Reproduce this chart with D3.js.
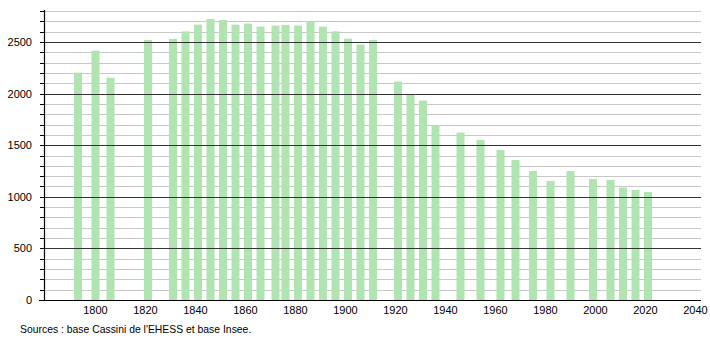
<!DOCTYPE html>
<html><head><meta charset="utf-8">
<script src="https://cdn.jsdelivr.net/npm/d3@7"></script>
<style>body{margin:0;background:#fff}svg{display:block}text{font-family:"Liberation Sans",Arial,sans-serif}</style>
</head><body>
<svg id="c" width="710" height="340"></svg>
<script>
const years = [1793,1800,1806,1821,1831,1836,1841,1846,1851,1856,1861,1866,1872,1876,1881,1886,1891,1896,1901,1906,1911,1921,1926,1931,1936,1946,1954,1962,1968,1975,1982,1990,1999,2006,2011,2016,2021];
const population = [2203,2416,2154,2519,2529,2603,2668,2723,2713,2668,2678,2649,2659,2665,2659,2697,2649,2603,2533,2474,2519,2116,1990,1932,1690,1622,1550,1453,1357,1250,1153,1250,1172,1163,1089,1066,1047];
const xTickLabels = [1800,1820,1840,1860,1880,1900,1920,1940,1960,1980,2000,2020,2040];
const yTickLabels = [0,500,1000,1500,2000,2500];
const sourceText = "Sources : base Cassini de l'EHESS et base Insee.";

const svg = d3.select("#c");
const x = d3.scaleLinear().domain([1779.6, 2042]).range([44.5, 700.5]);
const y = d3.scaleLinear().domain([0, 2800]).range([300, 11]);

// minor gridlines
const minor = d3.range(100, 2801, 100).filter(v => v % 500 !== 0);
svg.append("g").selectAll("line").data(minor).join("line")
  .attr("x1", 45).attr("x2", 701)
  .attr("y1", d => Math.round(y(d)) + 0.5).attr("y2", d => Math.round(y(d)) + 0.5)
  .attr("stroke", "#c8c8c8").attr("stroke-width", 1);

// bars
svg.append("g").selectAll("rect").data(years).join("rect")
  .attr("x", (d) => x(d) - 4)
  .attr("width", 8)
  .attr("y", (d, i) => y(population[i]))
  .attr("height", (d, i) => y(0) - y(population[i]))
  .attr("fill", "#b0e4b0");

// major gridlines (drawn over bars)
svg.append("g").selectAll("line").data(yTickLabels.filter(v => v > 0)).join("line")
  .attr("x1", 45).attr("x2", 701)
  .attr("y1", d => Math.round(y(d)) + 0.5).attr("y2", d => Math.round(y(d)) + 0.5)
  .attr("stroke", "#333").attr("stroke-width", 1);

// y axis line and ticks
svg.append("line").attr("x1", 44.5).attr("x2", 44.5).attr("y1", 10).attr("y2", 300)
  .attr("stroke", "#000").attr("stroke-width", 1.2);
svg.append("g").selectAll("line").data(d3.range(0, 2801, 100)).join("line")
  .attr("x1", 40).attr("x2", 44.5)
  .attr("y1", d => Math.round(y(d)) + 0.5).attr("y2", d => Math.round(y(d)) + 0.5)
  .attr("stroke", "#000").attr("stroke-width", 1);

// x axis line
svg.append("line").attr("x1", 39).attr("x2", 701).attr("y1", 300.5).attr("y2", 300.5)
  .attr("stroke", "#000").attr("stroke-width", 1.2);

// y labels
svg.append("g").selectAll("text").data(yTickLabels).join("text")
  .attr("x", 32).attr("y", d => y(d) + 4)
  .attr("text-anchor", "end").attr("font-size", 11).attr("fill", "#000")
  .text(d => d);

// x labels
svg.append("g").selectAll("text").data(xTickLabels).join("text")
  .attr("x", d => x(d)).attr("y", 314)
  .attr("text-anchor", "middle").attr("font-size", 11).attr("fill", "#000")
  .text(d => d);

svg.append("text").attr("x", 20).attr("y", 333).attr("font-size", 10.4).attr("fill", "#000")
  .text(sourceText);
</script>
</body></html>
